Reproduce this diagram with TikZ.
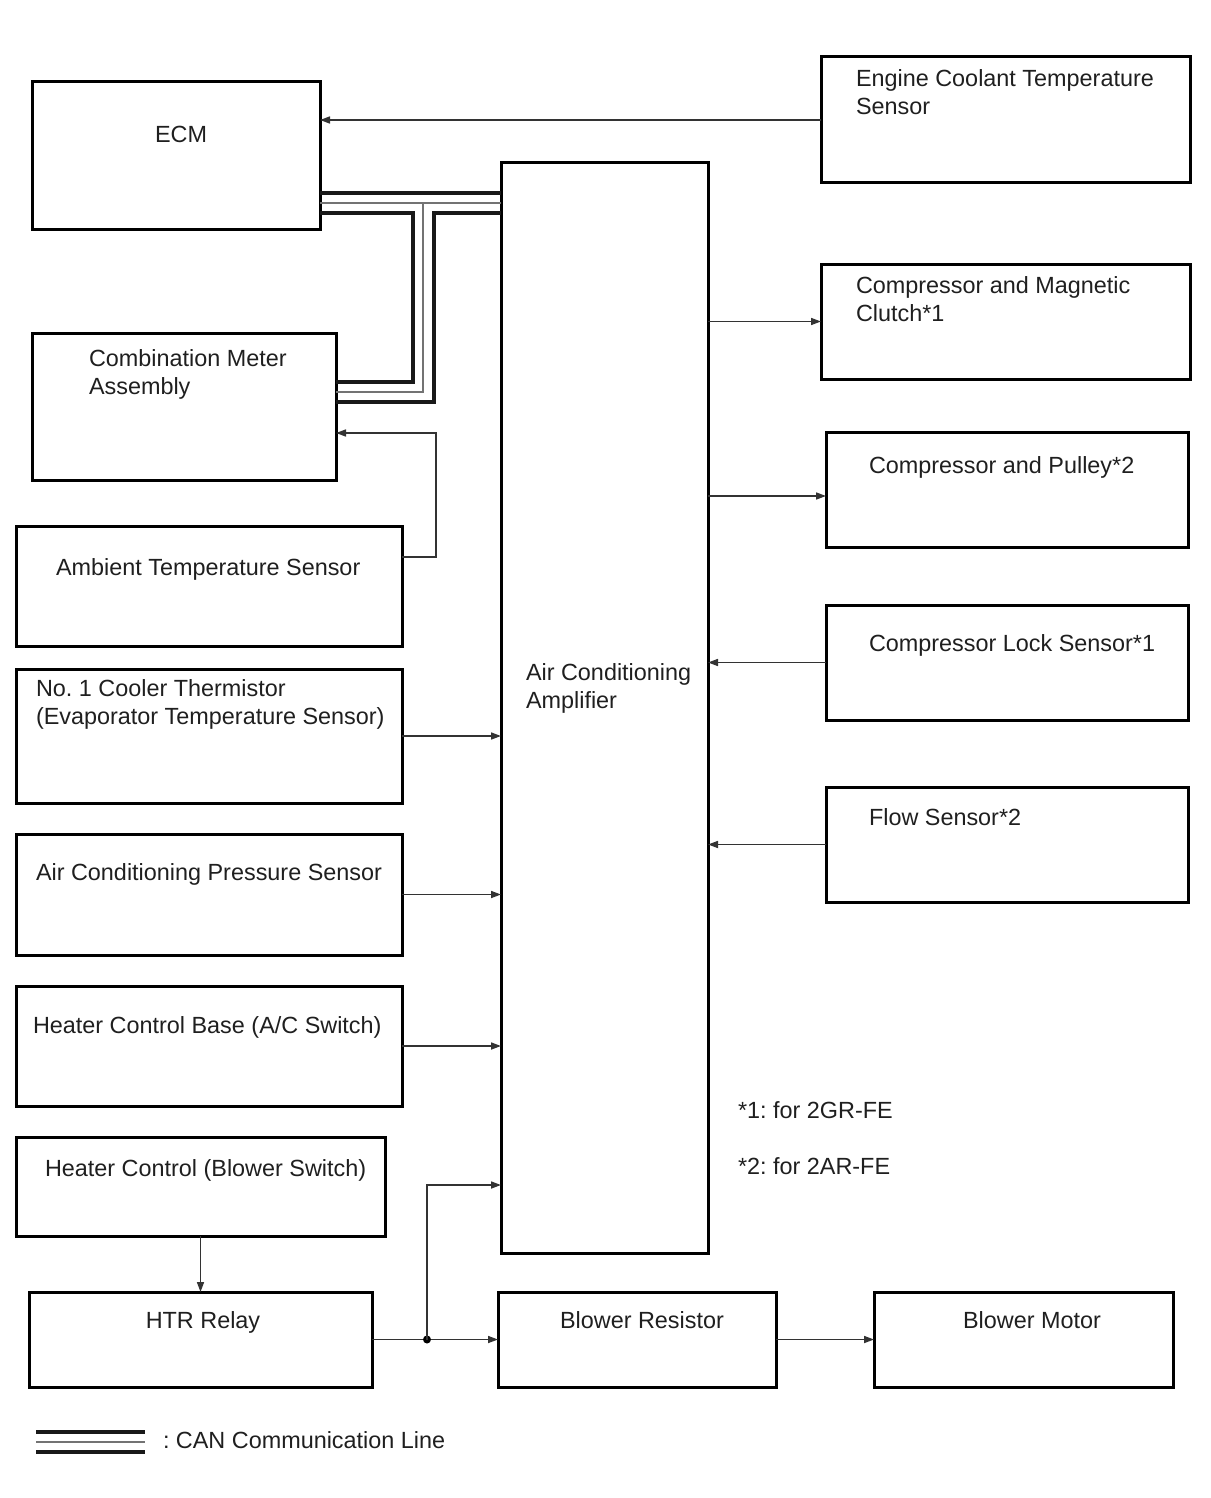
\documentclass[tikz,border=0pt]{standalone}
\usepackage{fontspec}
\setmainfont{Liberation Sans}
\usetikzlibrary{arrows.meta}
\frenchspacing
\begin{document}
\begin{tikzpicture}[x=1pt,y=-1pt,
  box/.style={draw=black,line width=3pt,rectangle,inner sep=0pt,outer sep=0pt,anchor=north west},
  txt/.style={inner sep=0pt,outer sep=0pt,anchor=base west,align=left,text=black!88,font=\fontsize{23.4}{28}\selectfont\frenchspacing},
  ctxt/.style={txt,anchor=base,align=center},
  arr/.style={draw=black!80,line width=1.6pt,-{Triangle[length=10pt,width=7pt]}},
  lin/.style={draw=black!80,line width=1.6pt},
  canA/.style={draw=black!90,line width=3.6pt},
  canB/.style={draw=black!55,line width=2.2pt},
  jdot/.style={circle,fill=black,inner sep=0pt,minimum size=8pt}]
\useasboundingbox (0,0) rectangle (1210,1498);
% boxes
\node[box,minimum width=288pt,minimum height=147pt] (ecm) at (32,82) {};
\node[box,minimum width=369pt,minimum height=126pt] (ect) at (821,57) {};
\node[box,minimum width=207pt,minimum height=1090pt] (amp) at (501,163) {};
\node[box,minimum width=369pt,minimum height=115pt] (cmc) at (821,264) {};
\node[box,minimum width=362pt,minimum height=115pt] (cp) at (826,432) {};
\node[box,minimum width=362pt,minimum height=115pt] (cls) at (826,605) {};
\node[box,minimum width=362pt,minimum height=115pt] (flow) at (826,787) {};
\node[box,minimum width=304pt,minimum height=147pt] (meter) at (32,333) {};
\node[box,minimum width=386pt,minimum height=120pt] (amb) at (16,526) {};
\node[box,minimum width=386pt,minimum height=134pt] (cool) at (16,669) {};
\node[box,minimum width=386pt,minimum height=121pt] (pres) at (16,834) {};
\node[box,minimum width=386pt,minimum height=120pt] (hcb) at (16,986) {};
\node[box,minimum width=369pt,minimum height=99pt] (hcs) at (16,1137) {};
\node[box,minimum width=343pt,minimum height=95pt] (htr) at (29,1292) {};
\node[box,minimum width=278pt,minimum height=95pt] (bres) at (498,1292) {};
\node[box,minimum width=299pt,minimum height=95pt] (bmot) at (874,1292) {};
% texts (multi-line nodes: base = baseline of last line)
\node[ctxt] (ecm-t) at (181,143) {ECM};
\node[txt] (ect-t) at (856,115) {Engine Coolant Temperature\\Sensor};
\node[txt] (amp-t) at (526,708) {Air Conditioning\\Amplifier};
\node[txt] (cmc-t) at (856,321) {Compressor and Magnetic\\Clutch*1};
\node[txt] (cp-t) at (869,473) {Compressor and Pulley*2};
\node[txt] (cls-t) at (869,651) {Compressor Lock Sensor*1};
\node[txt] (flow-t) at (869,825) {Flow Sensor*2};
\node[txt] (meter-t) at (89,394) {Combination Meter\\Assembly};
\node[txt] (amb-t) at (56,575) {Ambient Temperature Sensor};
\node[txt] (cool-t) at (36,724) {No. 1 Cooler Thermistor\\(Evaporator Temperature Sensor)};
\node[txt] (pres-t) at (36,880) {Air Conditioning Pressure Sensor};
\node[txt] (hcb-t) at (33,1033) {Heater Control Base (A/C Switch)};
\node[txt] (hcs-t) at (45,1176) {Heater Control (Blower Switch)};
\node[ctxt] (htr-t) at (203,1328) {HTR Relay};
\node[ctxt] (bres-t) at (642,1328) {Blower Resistor};
\node[ctxt] (bmot-t) at (1032,1328) {Blower Motor};
\node[txt] (n1) at (738,1118) {*1: for 2GR-FE};
\node[txt] (n2) at (738,1174) {*2: for 2AR-FE};
\node[txt] (lg-t) at (163,1448) {: CAN Communication Line};
% signal connectors
\draw[arr] (ect.west) -- (ect.west -| ecm.east);
\draw[arr] (amp.east |- cmc.west) -- (cmc.west);
\draw[arr] (amp.east |- 0,496) -- (cp.west |- 0,496);
\draw[arr] (cls.west) -- (cls.west -| amp.east);
\draw[arr] (flow.west) -- (flow.west -| amp.east);
\draw[arr] (cool.east) -- (cool.east -| amp.west);
\draw[arr] (pres.east) -- (pres.east -| amp.west);
\draw[arr] (hcb.east) -- (hcb.east -| amp.west);
\draw[arr] (amb.east |- 0,557) -- (436,557) -- (436,433) -- (meter.east |- 0,433);
\draw[arr] (hcs.south) -- (htr.north);
\draw[arr] (htr.east) -- (bres.west);
\node[jdot] (j1) at (427,1339.5) {};
\draw[arr] (j1.center) -- (427,1185) -- (amp.west |- 0,1185);
\draw[arr] (bres.east) -- (bmot.west);
% CAN lines
\draw[canA] (ecm.east |- 0,193) -- (amp.west |- 0,193);
\draw[canB] (ecm.east |- 0,203) -- (amp.west |- 0,203);
\draw[canB] (423,203) -- (423,392) -- (meter.east |- 0,392);
\draw[canA] (ecm.east |- 0,213) -- (413,213) -- (413,382) -- (meter.east |- 0,382);
\draw[canA] (amp.west |- 0,213) -- (434,213) -- (434,402) -- (meter.east |- 0,402);
% legend
\coordinate (lgA) at (36,1442);
\coordinate (lgB) at (145,1442);
\draw[canA] ([yshift=-10pt]lgA) -- ([yshift=-10pt]lgB);
\draw[canB] (lgA) -- (lgB);
\draw[canA] ([yshift=10pt]lgA) -- ([yshift=10pt]lgB);
\end{tikzpicture}
\end{document}
